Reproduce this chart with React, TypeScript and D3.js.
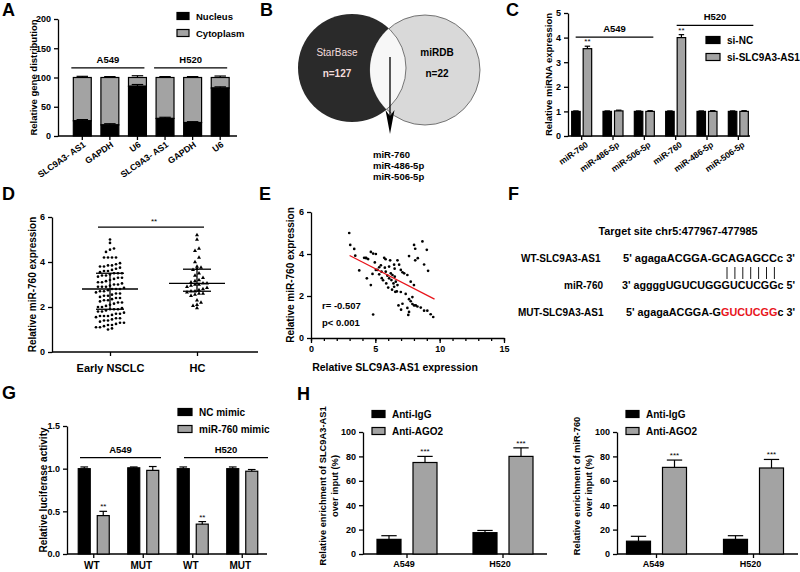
import * as d3 from 'd3';
import {useEffect, useRef} from 'react';

const width = 800;
const height = 572;
const font = '"Liberation Sans", Arial, Helvetica, sans-serif';
const grey = '#a3a3a3';

// A: nuclear / cytoplasmic distribution
const aGenes = ['SLC9A3- AS1', 'GAPDH', 'U6', 'SLC9A3- AS1', 'GAPDH', 'U6'];
const aNucleus = [26, 19, 85, 30, 23, 82];
const aNucleusErr = [2, 2, 3, 2, 1.5, 2];
const aCytoplasm = [74, 81, 15, 70, 77, 18];
const aCytoplasmErr = [2, 1.5, 3, 1.5, 1.5, 2.5];
const aCells = ['A549', 'H520'];

// B: venn
const vennSets = ['StarBase', 'miRDB'];
const vennCounts = [127, 22];
const vennShared = ['miR-760', 'miR-486-5p', 'miR-506-5p'];

// C: miRNA expression after knockdown
const cMirnas = ['miR-760', 'miR-486-5p', 'miR-506-5p', 'miR-760', 'miR-486-5p', 'miR-506-5p'];
const cSiNC = [1, 1, 1, 1, 1, 1];
const cSiNCErr = [0.02, 0.02, 0.02, 0.02, 0.02, 0.02];
const cSiSLC = [3.55, 1.02, 1.0, 4.0, 1.0, 1.0];
const cSiSLCErr = [0.1, 0.03, 0.03, 0.12, 0.03, 0.03];
const cStars = ['**', '', '', '**', '', ''];
const cSeries = ['si-NC', 'si-SLC9A3-AS1'];

// D: miR-760 in early NSCLC vs healthy controls
const dGroups = ['Early NSCLC', 'HC'];
const dNsclc = [
  5.0, 4.85, 4.6, 4.55, 4.45, 4.2, 4.2, 4.2, 4.2, 3.95, 3.9, 3.85, 3.85, 3.8, 3.75, 3.7, 3.65, 3.6, 3.55, 3.5,
  3.5, 3.5, 3.45, 3.4, 3.35, 3.3, 3.3, 3.25, 3.2, 3.15, 3.1, 3.05, 3.0, 3.0, 2.95, 2.9, 2.9, 2.85, 2.8, 2.8,
  2.8, 2.75, 2.7, 2.7, 2.65, 2.6, 2.55, 2.5, 2.45, 2.4, 2.4, 2.35, 2.3, 2.25, 2.2, 2.2, 2.15, 2.1, 2.05, 2.0,
  2.0, 1.95, 1.9, 1.9, 1.9, 1.85, 1.8, 1.8, 1.75, 1.7, 1.65, 1.6, 1.6, 1.55, 1.5, 1.5, 1.45, 1.4, 1.4, 1.35,
  1.3, 1.3, 1.25, 1.2, 1.2, 1.15, 1.1, 1.1, 1.05, 1.0, 3.6, 3.4, 3.1, 2.6, 2.3, 1.7, 3.8, 2.9, 2.5, 1.6,
];
const dHc = [
  5.2, 5.0, 4.6, 4.5, 4.2, 4.0, 3.8, 3.75, 3.7, 3.65, 3.5, 3.4, 3.3, 3.2, 3.15, 3.1, 3.05, 3.05, 3.0, 3.0,
  2.95, 2.9, 2.85, 2.8, 2.75, 2.7, 2.7, 2.65, 2.6, 2.6, 2.55, 2.5, 2.3, 2.2, 2.1, 2.05, 1.95,
];
const dMedian = [2.8, 3.05];
const dQ1 = [1.9, 2.7];
const dQ3 = [3.5, 3.68];

// E: correlation
const eX = [
  2.97, 3.05, 3.36, 3.44, 3.75, 4.13, 4.26, 4.44, 4.65, 4.83, 4.34, 4.65, 4.78, 4.83, 4.96, 5.04, 5.17, 5.04,
  5.3, 5.43, 5.48, 5.3, 5.69, 5.74, 5.81, 5.94, 6.07, 6.07, 6.15, 6.2, 6.25, 6.33, 6.41, 6.46, 6.51, 6.59, 6.67,
  6.72, 6.46, 6.72, 6.85, 6.98, 7.11, 6.98, 7.11, 7.36, 7.49, 7.62, 7.88, 7.24, 7.49, 7.75, 8.0, 7.56, 7.62,
  7.62, 7.75, 7.88, 8.01, 8.14, 8.27, 8.53, 8.79, 9.04, 9.3, 9.5, 8.01, 8.1, 8.3, 8.1, 8.66, 8.79, 9.0, 9.1,
  5.6, 5.85, 6.0, 6.3, 6.55, 6.8, 7.0, 5.8, 6.5, 5.5, 4.3,
];
const eY = [
  5.0, 4.43, 4.24, 3.92, 3.22, 3.82, 3.82, 3.76, 4.1, 4.02, 2.84, 2.52, 3.05, 1.12, 3.6, 3.24, 3.24, 4.0,
  3.37, 3.46, 3.16, 3.03, 3.82, 3.35, 3.16, 2.97, 3.4, 2.84, 3.7, 3.08, 2.76, 3.0, 2.6, 2.44, 2.92, 2.68, 2.22,
  2.52, 3.49, 3.7, 3.49, 3.24, 3.13, 2.19, 1.63, 2.1, 1.43, 1.24, 1.95, 3.08, 3.0, 2.68, 2.52, 1.1, 3.9,
  1.85, 1.75, 1.62, 1.55, 1.55, 1.5, 1.45, 1.3, 1.3, 1.13, 1.0, 4.43, 4.25, 3.8, 3.7, 4.6, 3.5, 4.2, 3.2,
  2.75, 2.6, 2.4, 2.3, 2.2, 1.55, 1.35, 3.75, 3.3, 2.85, 3.8,
];
const eFitX = [3.0, 9.6];
const eFitY = [3.93, 1.85];
const eStats = ['r= -0.507', 'p< 0.001'];

// F: binding site
const fTitle = 'Target site chr5:477967-477985';
const fNames = ['WT-SLC9A3-AS1', 'miR-760', 'MUT-SLC9A3-AS1'];
const fSeqs = [
  [["5' agagaACGGA-GCAGAGCCc 3'", '#000']],
  [["3' aggggUGUCUGGGUCUCGGc 5'", '#000']],
  [["5' agagaACGGA-G", '#000'], ['GUCUCGG', '#e8141b'], ['c 3\'', '#000']],
];
const fPairs = 7;

// G: luciferase
const gGroups = ['WT', 'MUT', 'WT', 'MUT'];
const gNC = [1.0, 1.01, 1.0, 1.0];
const gNCErr = [0.02, 0.01, 0.02, 0.02];
const gMimic = [0.45, 0.98, 0.35, 0.97];
const gMimicErr = [0.05, 0.045, 0.03, 0.02];
const gStars = ['**', '', '**', ''];
const gSeries = ['NC mimic', 'miR-760 mimic'];

// H: RIP
const hCells = ['A549', 'H520'];
const hSeries = ['Anti-IgG', 'Anti-AGO2'];
const hIgG1 = [12, 17.5];
const hIgG1Err = [3, 1.8];
const hAgo1 = [75, 80];
const hAgo1Err = [5, 7];
const hIgG2 = [10.5, 12];
const hIgG2Err = [4, 3];
const hAgo2 = [71, 70.5];
const hAgo2Err = [6, 7];

function text(g, x, y, s, size, o: any = {}) {
  const t = g
    .append('text')
    .attr('x', x)
    .attr('y', y)
    .attr('font-family', font)
    .attr('font-size', size)
    .attr('font-weight', o.weight || 'bold')
    .attr('text-anchor', o.anchor || 'middle')
    .attr('fill', o.fill || '#000')
    .text(s);
  if (o.rotate) t.attr('transform', `rotate(${o.rotate},${x},${y})`);
  return t;
}

function line(g, x1, y1, x2, y2, w = 1.3, c = '#000') {
  g.append('line')
    .attr('x1', x1)
    .attr('y1', y1)
    .attr('x2', x2)
    .attr('y2', y2)
    .attr('stroke', c)
    .attr('stroke-width', w);
}

function styleAxis(ax, size) {
  ax.attr('font-family', font).attr('font-size', size).attr('font-weight', 'bold');
  ax.select('.domain').attr('stroke-width', 1.3);
  ax.selectAll('.tick line').attr('stroke-width', 1.3);
}

function yAxis(g, x, y, ticks, fmt, size = 9) {
  const ax = g
    .append('g')
    .attr('transform', `translate(${x},0)`)
    .call(d3.axisLeft(y).tickValues(ticks).tickFormat(fmt).tickSize(4).tickSizeOuter(0));
  styleAxis(ax, size);
  return ax;
}

function xAxis(g, scale, y, x0, x1, fmt, size = 9) {
  const ax = g
    .append('g')
    .attr('transform', `translate(0,${y})`)
    .call(d3.axisBottom(scale).tickFormat(fmt).tickSize(4).tickSizeOuter(0));
  styleAxis(ax, size);
  ax.select('.domain').remove();
  line(g, x0, y, x1, y);
  return ax;
}

function bar(g, x, w, v0, v1, y, fill) {
  g.append('rect')
    .attr('x', x)
    .attr('y', y(v1))
    .attr('width', w)
    .attr('height', y(v0) - y(v1))
    .attr('fill', fill)
    .attr('stroke', '#000')
    .attr('stroke-width', 1.2);
}

function errBar(g, cx, w, v, e, y) {
  line(g, cx, y(v), cx, y(v + e), 1.2);
  line(g, cx - w * 0.32, y(v + e), cx + w * 0.32, y(v + e), 1.2);
}

function legend(g, x, y, labels, dy, size, sw = 13) {
  labels.forEach((l, i) => {
    g.append('rect')
      .attr('x', x)
      .attr('y', y + i * dy - 3.5)
      .attr('width', sw)
      .attr('height', 7)
      .attr('fill', i === 0 ? '#000' : grey)
      .attr('stroke', '#000')
      .attr('stroke-width', 1.2);
    text(g, x + sw + 7, y + i * dy + 3.5, l, size, {anchor: 'start'});
  });
}

function groupLine(g, x0, x1, y, label) {
  line(g, x0, y, x1, y, 1.2);
  text(g, (x0 + x1) / 2, y - 5, label, 9.5);
}

// rows of points that share a y band are spread sideways
function swarm(values, cx, y, rowPx, stepPx) {
  const sorted = values.map(v => ({v, py: y(v)})).sort((a, b) => a.v - b.v);
  const rows = d3.groups(sorted, d => Math.round(d.py / rowPx));
  const out: any[] = [];
  rows.forEach(([, pts]) => {
    pts.forEach((p, k) => out.push({x: cx + (k - (pts.length - 1) / 2) * stepPx, y: p.py}));
  });
  return out;
}

function App() {
  const ref = useRef<SVGSVGElement>(null);

  useEffect(() => {
    const svg = d3.select(ref.current);
    svg.selectAll('*').remove();
    svg.append('rect').attr('width', width).attr('height', height).attr('fill', '#fff');

    const letters = [['A', 2, 16], ['B', 260, 16], ['C', 506, 16], ['D', 2, 200], ['E', 259, 200], ['F', 508, 200], ['G', 2, 399], ['H', 297, 400]];
    letters.forEach(([l, x, y]) => text(svg, x, y, l, 18, {anchor: 'start'}));

    // ---------- A
    const gA = svg.append('g');
    const aY = d3.scaleLinear().domain([0, 200]).range([136, 19]);
    const aX = d3.scaleBand<number>().domain(d3.range(aGenes.length)).range([68.5, 234]).paddingInner(0.35).paddingOuter(0.175);
    yAxis(gA, 58, aY, [0, 50, 100, 150, 200], d3.format('d'));
    const axA = xAxis(gA, aX, 136, 58, 237, i => aGenes[i], 8.8);
    axA.selectAll('text').attr('y', 0).attr('dy', 0).attr('text-anchor', 'end').attr('transform', 'translate(4,10) rotate(-35)');
    aGenes.forEach((_, i) => {
      const x = aX(i), w = aX.bandwidth();
      bar(gA, x, w, aNucleus[i], aNucleus[i] + aCytoplasm[i], aY, grey);
      bar(gA, x, w, 0, aNucleus[i], aY, '#000');
      errBar(gA, x + w / 2, w, aNucleus[i] + aCytoplasm[i], aCytoplasmErr[i], aY);
      errBar(gA, x + w / 2, w, aNucleus[i], aNucleusErr[i], aY);
    });
    aCells.forEach((c, j) => {
      const i0 = j * 3, i1 = j * 3 + 2;
      groupLine(gA, aX(i0) - 2, aX(i1) + aX.bandwidth() - 2, aY(116.5), c);
    });
    legend(gA, 177, 16, ['Nucleus', 'Cytoplasm'], 17, 9.5, 12);
    text(gA, 36.5, aY(100), 'Relative gene distribution', 9.5, {rotate: -90});

    // ---------- B
    const gB = svg.append('g');
    svg.append('defs').append('clipPath').attr('id', 'vennclip').append('circle').attr('cx', 425).attr('cy', 70).attr('r', 55);
    gB.append('circle').attr('cx', 352).attr('cy', 68).attr('r', 54).attr('fill', '#2a2a2a');
    gB.append('circle').attr('cx', 425).attr('cy', 70).attr('r', 55).attr('fill', '#d9d9d9').attr('stroke', '#555').attr('stroke-width', 0.8);
    gB.append('circle').attr('cx', 352).attr('cy', 68).attr('r', 54).attr('fill', '#f7f7f7').attr('stroke', '#555').attr('stroke-width', 0.8).attr('clip-path', 'url(#vennclip)');
    text(gB, 337, 56, vennSets[0], 10, {weight: 'normal', fill: '#f3dcdc'});
    text(gB, 337, 77, `n=${vennCounts[0]}`, 10, {fill: '#f3dcdc'});
    text(gB, 437, 56, vennSets[1], 10);
    text(gB, 437, 77, `n=${vennCounts[1]}`, 10);
    line(gB, 390, 57, 390, 118, 1.3);
    gB.append('path').attr('d', 'M385.5,110 L390,134 L394.5,110 L390,116 Z').attr('fill', '#000');
    vennShared.forEach((m, i) => text(gB, 373, 158 + i * 11, m, 9.5, {anchor: 'start'}));

    // ---------- C
    const gC = svg.append('g');
    const cY = d3.scaleLinear().domain([0, 5]).range([136, 13]);
    const cX = d3.scaleBand<number>().domain(d3.range(cMirnas.length)).range([566, 754]);
    yAxis(gC, 568, cY, [0, 1, 2, 3, 4, 5], d3.format('d'));
    const axC = xAxis(gC, cX, 136, 568, 750, i => cMirnas[i], 8.5);
    axC.selectAll('text').attr('y', 0).attr('dy', 0).attr('text-anchor', 'end').attr('transform', 'translate(7,10) rotate(-35)');
    cMirnas.forEach((_, i) => {
      const c = cX(i) + cX.bandwidth() / 2;
      bar(gC, c - 10, 8.5, 0, cSiNC[i], cY, '#000');
      errBar(gC, c - 5.75, 8.5, cSiNC[i], cSiNCErr[i], cY);
      bar(gC, c + 1.5, 8.5, 0, cSiSLC[i], cY, grey);
      errBar(gC, c + 5.75, 8.5, cSiSLC[i], cSiSLCErr[i], cY);
      if (cStars[i]) text(gC, c + 5.75, cY(cSiSLC[i] + cSiSLCErr[i]) - 2, cStars[i], 8, {weight: 'normal'});
    });
    const cc = i => cX(i) + cX.bandwidth() / 2;
    groupLine(gC, cc(0) - 6, cc(2) + 9, cY(4.02), 'A549');
    groupLine(gC, cc(3) + 1, cc(5) + 15, cY(4.5), 'H520');
    legend(gC, 706, 40, cSeries, 17, 10, 14);
    text(gC, 551.5, cY(2.5), 'Relative miRNA expression', 9.5, {rotate: -90});

    // ---------- D
    const gD = svg.append('g');
    const dY = d3.scaleLinear().domain([0, 6]).range([352, 217]);
    const dX = d3.scalePoint().domain(dGroups).range([110, 197]);
    yAxis(gD, 52, dY, [0, 2, 4, 6], d3.format('d'));
    const axD = xAxis(gD, dX, 352, 52, 258, d => d, 11);
    axD.selectAll('text').attr('y', 20).attr('dy', 0);
    text(gD, 35.5, dY(3), 'Relative miR-760 expression', 10, {rotate: -90});
    [dNsclc, dHc].forEach((vals, gi) => {
      const cx = dX(dGroups[gi]);
      const pts = swarm(vals, cx, dY, 5, 4);
      if (gi === 0) {
        gD.selectAll(null).data(pts).join('circle').attr('cx', d => d.x).attr('cy', d => d.y).attr('r', 1.35).attr('fill', '#000');
      } else {
        const tri = d3.symbol().type(d3.symbolTriangle).size(7)();
        gD.selectAll(null).data(pts).join('path').attr('d', tri).attr('transform', d => `translate(${d.x},${d.y})`).attr('fill', '#000');
      }
      line(gD, cx - 28, dY(dMedian[gi]), cx + 28, dY(dMedian[gi]), 1.3);
      line(gD, cx - 14, dY(dQ1[gi]), cx + 14, dY(dQ1[gi]), 1.3);
      line(gD, cx - 14, dY(dQ3[gi]), cx + 14, dY(dQ3[gi]), 1.3);
      line(gD, cx, dY(dQ1[gi]), cx, dY(dQ3[gi]), 1.3);
    });
    line(gD, 98, dY(5.55), 204, dY(5.55), 1.2);
    text(gD, 154, dY(5.55) - 3, '**', 8, {weight: 'normal'});

    // ---------- E
    const gE = svg.append('g');
    const eYs = d3.scaleLinear().domain([0, 6]).range([338, 212]);
    const eXs = d3.scaleLinear().domain([0, 15]).range([311, 504]);
    yAxis(gE, 311, eYs, [0, 2, 4, 6], d3.format('d'));
    const minor = gE.append('g').attr('transform', 'translate(0,338)').call(d3.axisBottom(eXs).tickValues(d3.range(0, 16)).tickFormat(() => '').tickSize(3).tickSizeOuter(0));
    styleAxis(minor, 9);
    minor.select('.domain').remove();
    const axE = gE.append('g').attr('transform', 'translate(0,338)').call(d3.axisBottom(eXs).tickValues([0, 5, 10, 15]).tickFormat(d3.format('d')).tickSize(5).tickSizeOuter(0));
    styleAxis(axE, 9);
    gE.selectAll(null).data(eX).join('circle').attr('cx', d => eXs(d)).attr('cy', (d, i) => eYs(eY[i])).attr('r', 1.35).attr('fill', '#000');
    line(gE, eXs(eFitX[0]), eYs(eFitY[0]), eXs(eFitX[1]), eYs(eFitY[1]), 1.2, '#e8141b');
    text(gE, 322, 309, eStats[0], 9.5, {anchor: 'start'});
    text(gE, 322, 326, eStats[1], 9.5, {anchor: 'start'});
    text(gE, 395, 371, 'Relative SLC9A3-AS1 expression', 10.5);
    text(gE, 293.5, eYs(3), 'Relative miR-760 expression', 10, {rotate: -90});

    // ---------- F
    const gF = svg.append('g');
    text(gF, 678, 235, fTitle, 10.8);
    text(gF, 521, 262, fNames[0], 10, {anchor: 'start'});
    text(gF, 603, 289, fNames[1], 10, {anchor: 'end'});
    text(gF, 518, 316, fNames[2], 10, {anchor: 'start'});
    const seqX = [623, 622, 626];
    const seqY = [262, 289, 316];
    fSeqs.forEach((parts, i) => {
      const t = gF.append('text').attr('x', seqX[i]).attr('y', seqY[i]).attr('font-family', font).attr('font-size', 11).attr('font-weight', 'bold').attr('textLength', 795 - seqX[i]).attr('lengthAdjust', 'spacingAndGlyphs');
      parts.forEach(([s, c]) => t.append('tspan').attr('fill', c).text(s));
    });
    d3.range(fPairs).forEach(k => line(gF, 727 + k * 7.9, 267, 727 + k * 7.9, 279, 0.9));

    // ---------- G
    const gG = svg.append('g');
    const gY = d3.scaleLinear().domain([0, 1.5]).range([554, 426]);
    const gX = d3.scaleBand<number>().domain(d3.range(gGroups.length)).range([69, 267]);
    yAxis(gG, 67, gY, [0, 0.5, 1, 1.5], d3.format('.1f'));
    const axG = xAxis(gG, gX, 554, 67, 267, i => gGroups[i], 10);
    axG.selectAll('text').attr('y', 8).attr('dx', -2);
    gGroups.forEach((_, i) => {
      const c = gX(i) + gX.bandwidth() / 2;
      bar(gG, c - 15.5, 12, 0, gNC[i], gY, '#000');
      errBar(gG, c - 9.5, 12, gNC[i], gNCErr[i], gY);
      bar(gG, c + 3.5, 12, 0, gMimic[i], gY, grey);
      errBar(gG, c + 9.5, 12, gMimic[i], gMimicErr[i], gY);
      if (gStars[i]) text(gG, c + 9.5, gY(gMimic[i] + gMimicErr[i]) - 2, gStars[i], 8, {weight: 'normal'});
    });
    groupLine(gG, 80, 161, gY(1.13), 'A549');
    groupLine(gG, 184, 268, gY(1.13), 'H520');
    legend(gG, 178, 412, gSeries, 17, 10, 14);
    text(gG, 46.5, gY(0.75), 'Relative luciferase activity', 10, {rotate: -90});

    // ---------- H
    const drawRip = (ax0, ax1, igg, iggErr, ago, agoErr, range, ylabel) => {
      const g = svg.append('g');
      const y = d3.scaleLinear().domain([0, 100]).range([554, 432]);
      const x = d3.scaleBand().domain(hCells).range(range);
      yAxis(g, ax0, y, [0, 20, 40, 60, 80, 100], d3.format('d'));
      const axH = xAxis(g, x, 554, ax0, ax1, d => d, 9);
      axH.selectAll('text').attr('dx', -3);
      hCells.forEach((cell, i) => {
        const c = x(cell) + x.bandwidth() / 2;
        bar(g, c - 30, 24, 0, igg[i], y, '#000');
        errBar(g, c - 18, 24, igg[i], iggErr[i], y);
        bar(g, c + 6, 24, 0, ago[i], y, grey);
        errBar(g, c + 18, 24, ago[i], agoErr[i], y);
        text(g, c + 18, y(ago[i] + agoErr[i]) - 2, '***', 8, {weight: 'normal'});
      });
      legend(g, ax0 + 9, 414, hSeries, 17, 10, 13);
      text(g, ax0 - 37, 486, ylabel, 9.3, {rotate: -90});
      text(g, ax0 - 25, 486, 'over input (%)', 9.3, {rotate: -90});
    };
    drawRip(363, 547, hIgG1, hIgG1Err, hAgo1, hAgo1Err, [359, 551], 'Relative enrichment of SLC9A3-AS1');
    drawRip(617, 798, hIgG2, hIgG2Err, hAgo2, hAgo2Err, [608, 802], 'Relative enrichment of miR-760');
  }, []);

  return <svg ref={ref} width={width} height={height} style={{position: 'absolute', left: 0, top: 0}} />;
}

export default App;
